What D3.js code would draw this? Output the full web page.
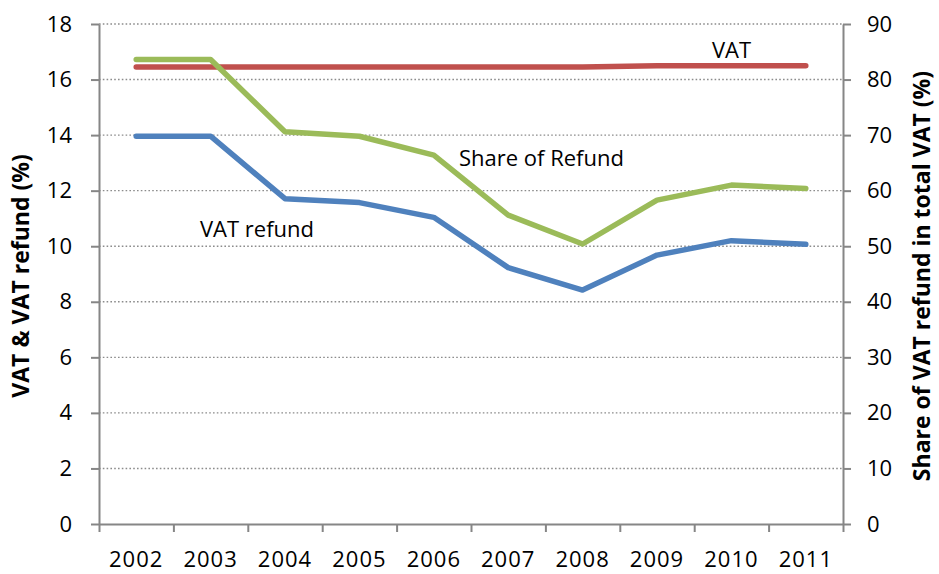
<!DOCTYPE html>
<html>
<head>
<meta charset="utf-8">
<script src="https://cdn.jsdelivr.net/npm/d3@7"></script>
<style>
  body { margin: 0; background: #fff; }
  svg { display: block; font-family: "Open Sans", sans-serif; }
</style>
</head>
<body>
<script>
// VAT, VAT refund and share of refund, 2002-2011
var years = ["2002", "2003", "2004", "2005", "2006", "2007", "2008", "2009", "2010", "2011"];
var vat = [16.45, 16.45, 16.45, 16.45, 16.45, 16.45, 16.45, 16.5, 16.5, 16.5];
var vatRefund = [13.96, 13.96, 11.71, 11.57, 11.04, 9.23, 8.42, 9.68, 10.2, 10.07];
var shareRefund = [83.6, 83.6, 70.6, 69.8, 66.4, 55.6, 50.4, 58.3, 61.0, 60.4];
var leftTicks = [0, 2, 4, 6, 8, 10, 12, 14, 16, 18];
var rightTicks = [0, 10, 20, 30, 40, 50, 60, 70, 80, 90];

var w = 939, h = 574;
var plotLeft = 99, plotRight = 843, plotTop = 24, plotBottom = 524;
var axisColor = "#868686";

var svg = d3.select("body").append("svg")
    .attr("width", w)
    .attr("height", h);

var x = d3.scaleBand().domain(years).range([plotLeft, plotRight]);
var xEdge = d3.scaleLinear().domain([0, years.length]).range([plotLeft, plotRight]);
var yL = d3.scaleLinear().domain([0, 18]).range([plotBottom, plotTop]);
var yR = d3.scaleLinear().domain([0, 90]).range([plotBottom, plotTop]);

// gridlines (dotted)
svg.append("g")
    .selectAll("line")
    .data(leftTicks.filter(d => d > 0))
    .enter().append("line")
    .attr("x1", plotLeft).attr("x2", plotRight)
    .attr("y1", d => yL(d)).attr("y2", d => yL(d))
    .attr("stroke", "#8c8c8c")
    .attr("stroke-width", 1.4)
    .attr("stroke-dasharray", "1.6,2.2");

function styleAxis(g) {
  g.selectAll(".domain").attr("stroke", axisColor).attr("stroke-width", 2);
  g.selectAll(".tick line").attr("stroke", axisColor).attr("stroke-width", 2);
  g.selectAll("text").attr("fill", "#000").style("font-size", "22px")
    .style("font-family", "'Open Sans', sans-serif");
}

// left axis
svg.append("g")
    .attr("transform", "translate(" + plotLeft + ",0)")
    .call(d3.axisLeft(yL).tickValues(leftTicks).tickSize(8).tickSizeOuter(0).tickPadding(19))
    .call(styleAxis);

// right axis
svg.append("g")
    .attr("transform", "translate(" + plotRight + ",0)")
    .call(d3.axisRight(yR).tickValues(rightTicks).tickSize(8).tickSizeOuter(0).tickPadding(16))
    .call(styleAxis);

// bottom axis: ticks at category edges
svg.append("g")
    .attr("transform", "translate(0," + plotBottom + ")")
    .call(d3.axisBottom(xEdge).ticks(years.length).tickFormat("").tickSize(8).tickSizeOuter(0))
    .call(styleAxis);

// bottom axis labels
svg.append("g")
    .attr("transform", "translate(0," + plotBottom + ")")
    .call(d3.axisBottom(x).tickSize(0).tickPadding(27))
    .call(styleAxis)
    .call(g => g.select(".domain").remove())
    .selectAll("text").style("letter-spacing", "1px");

// lines
var series = [
  {values: vat, scale: yL, color: "#C0504D"},
  {values: shareRefund, scale: yR, color: "#9BBB59"},
  {values: vatRefund, scale: yL, color: "#4F81BD"}
];

series.forEach(function(s) {
  var line = d3.line()
      .x((d, i) => x(years[i]) + x.bandwidth() / 2)
      .y(d => s.scale(d));
  svg.append("path")
      .datum(s.values)
      .attr("d", line)
      .attr("fill", "none")
      .attr("stroke", s.color)
      .attr("stroke-width", 5.5)
      .attr("stroke-linejoin", "round")
      .attr("stroke-linecap", "round");
});

// series labels
svg.append("text").attr("x", 712).attr("y", 58).text("VAT")
    .style("font-size", "22px");
svg.append("text").attr("x", 459).attr("y", 166).text("Share of Refund")
    .style("font-size", "22px");
svg.append("text").attr("x", 200).attr("y", 237).text("VAT refund")
    .style("font-size", "22px");

// axis titles
svg.append("text")
    .attr("transform", "translate(29,276) rotate(-90)")
    .attr("text-anchor", "middle")
    .style("font-size", "23px")
    .style("font-weight", "bold")
    .text("VAT & VAT refund (%)");

svg.append("text")
    .attr("transform", "translate(930,276) rotate(-90)")
    .attr("text-anchor", "middle")
    .style("font-size", "23px")
    .style("font-weight", "bold")
    .text("Share of VAT refund in total VAT (%)");
</script>
</body>
</html>
